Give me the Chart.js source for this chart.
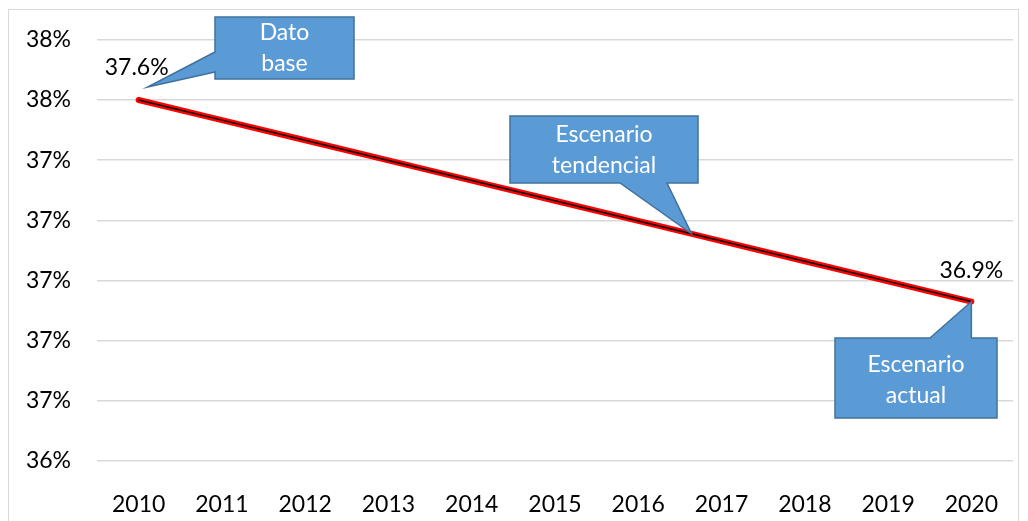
<!DOCTYPE html>
<html>
<head>
<meta charset="utf-8">
<script src="https://cdn.jsdelivr.net/npm/chart.js@4/dist/chart.umd.min.js"></script>
<style>
  html, body { margin: 0; padding: 0; background: #fff; }
  #wrap { width: 1028px; height: 521px; }
</style>
</head>
<body>
<div id="wrap"><canvas id="lineChart" width="1028" height="521"></canvas></div>
<script>
// data
var years = ["2010","2011","2012","2013","2014","2015","2016","2017","2018","2019","2020"];
var values = [37.600, 37.533, 37.466, 37.399, 37.332, 37.265, 37.198, 37.131, 37.064, 36.997, 36.930];
var yTicks = [36.4, 36.6, 36.8, 37.0, 37.2, 37.4, 37.6, 37.8];

var FONT = "Lato, 'Open Sans', sans-serif";

// callout boxes, drawn over the chart
function drawCallout(ctx, pts, lines, cx, cy) {
  ctx.save();
  ctx.beginPath();
  ctx.moveTo(pts[0][0], pts[0][1]);
  for (var i = 1; i < pts.length; i++) ctx.lineTo(pts[i][0], pts[i][1]);
  ctx.closePath();
  ctx.fillStyle = "#5B9BD5";
  ctx.fill();
  ctx.lineWidth = 1.5;
  ctx.strokeStyle = "#41719C";
  ctx.stroke();
  ctx.fillStyle = "#ffffff";
  ctx.font = "23px " + FONT;
  ctx.textAlign = "center";
  ctx.textBaseline = "middle";
  var lh = 31;
  var y0 = cy - (lines.length - 1) * lh / 2;
  lines.forEach(function(t, i) { ctx.fillText(t, cx, y0 + i * lh); });
  ctx.restore();
}

var decorPlugin = {
  id: "decor",
  beforeDraw: function(chart) {
    var ctx = chart.ctx;
    ctx.save();
    ctx.fillStyle = "#fff";
    ctx.fillRect(0, 0, chart.width, chart.height);
    ctx.strokeStyle = "#d9d9d9";
    ctx.lineWidth = 1;
    ctx.strokeRect(8.5, 9.5, 1010, 600);
    ctx.restore();
  },
  afterDraw: function(chart) {
    var ctx = chart.ctx;
    var xs = chart.scales.x, ys = chart.scales.y;
    var last = values.length - 1;
    var p0 = { x: xs.getPixelForValue(0), y: ys.getPixelForValue(values[0]) };
    var pN = { x: xs.getPixelForValue(last), y: ys.getPixelForValue(values[last]) };

    // data labels on first and last point
    ctx.save();
    ctx.fillStyle = "#000";
    ctx.font = "23px " + FONT;
    ctx.textAlign = "center";
    ctx.textBaseline = "middle";
    ctx.fillText(values[0].toFixed(1) + "%", p0.x - 2, p0.y - 32);
    ctx.fillText(values[last].toFixed(1) + "%", pN.x, pN.y - 31);
    ctx.restore();

    // Dato base
    drawCallout(ctx, [[215,17],[354,17],[354,79],[215,79],[215,72],[p0.x + 9, p0.y - 13],[215,52]],
      ["Dato", "base"], 284.5, 48);
    // Escenario tendencial (tip on the line between 2016 and 2017)
    var tx = xs.getPixelForValue(6) + 0.64 * (xs.getPixelForValue(7) - xs.getPixelForValue(6));
    var ty = ys.getPixelForValue(values[6] + 0.64 * (values[7] - values[6]));
    drawCallout(ctx, [[510,116],[698,116],[698,183],[667,183],[tx, ty],[620,183],[510,183]],
      ["Escenario", "tendencial"], 604, 150);
    // Escenario actual
    drawCallout(ctx, [[835,338],[930,338],[pN.x, pN.y],[pN.x,338],[997,338],[997,418],[835,418]],
      ["Escenario", "actual"], 916, 380);
  }
};

var ctx = document.getElementById("lineChart");
var chart = new Chart(ctx, {
  type: "line",
  data: {
    labels: years,
    datasets: [
      {
        data: values,
        borderColor: "#000000",
        borderWidth: 1.5,
        pointRadius: 0,
        tension: 0,
        order: 0
      },
      {
        data: values,
        borderColor: "#FF0000",
        borderWidth: 6,
        borderCapStyle: "round",
        pointRadius: 0,
        tension: 0,
        order: 1
      }
    ]
  },
  options: {
    responsive: false,
    animation: false,
    events: [],
    layout: { padding: { left: 0, top: 39, right: 15, bottom: 0 } },
    plugins: {
      legend: { display: false },
      tooltip: { enabled: false }
    },
    scales: {
      x: {
        offset: true,
        grid: { display: false },
        border: { display: false },
        ticks: { color: "#000", font: { family: FONT, size: 23 }, padding: 22, maxRotation: 0 },
        afterFit: function(s) { s.height = 60; }
      },
      y: {
        min: yTicks[0],
        max: yTicks[yTicks.length - 1],
        afterBuildTicks: function(s) { s.ticks = yTicks.map(function(v) { return { value: v }; }); },
        grid: { color: "#d9d9d9", lineWidth: 1.5, drawTicks: false },
        border: { display: false },
        ticks: {
          color: "#000",
          font: { family: FONT, size: 23 },
          padding: 26,
          callback: function(v) { return Math.round(v) + "%"; }
        },
        afterFit: function(s) { s.width = 97; }
      }
    }
  },
  plugins: [decorPlugin]
});
</script>
</body>
</html>
